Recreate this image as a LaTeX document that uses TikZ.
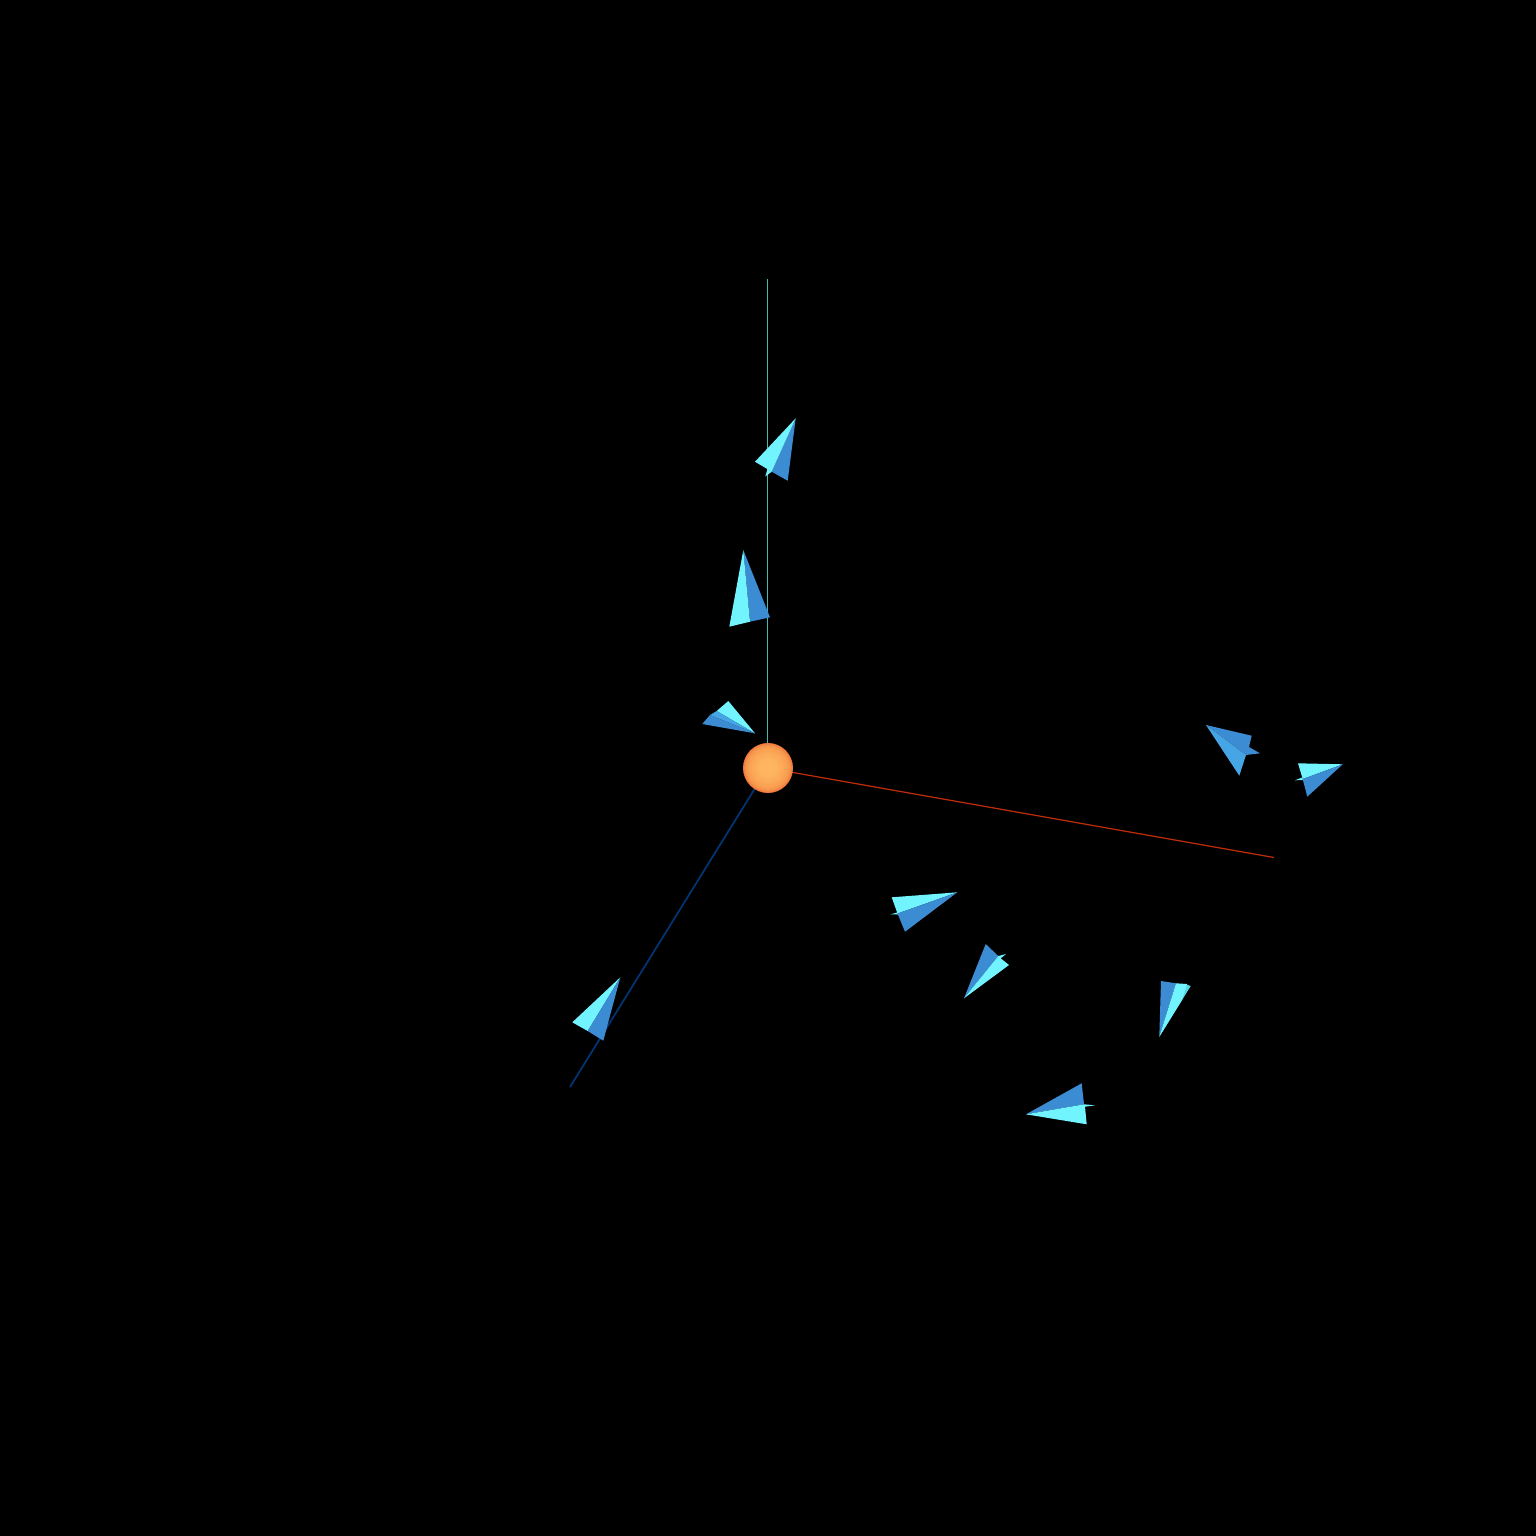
\documentclass[tikz,border=0pt]{standalone}
\definecolor{lightface}{RGB}{114,244,255}
\definecolor{darkface}{RGB}{60,140,212}
\definecolor{midface}{RGB}{70,165,228}
\definecolor{edgeface}{RGB}{85,215,232}
\definecolor{tealaxis}{RGB}{70,185,175}
\definecolor{redaxis}{RGB}{190,45,10}
\definecolor{blueaxis}{RGB}{0,52,115}
\definecolor{sunin}{RGB}{255,182,95}
\definecolor{sunout}{RGB}{238,118,58}
\tikzset{
  lf/.style={fill=lightface,draw=none},
  df/.style={fill=darkface,draw=none},
  mf/.style={fill=midface,draw=none},
  ef/.style={fill=edgeface,draw=none},
  axisline/.style={line width=0.7pt},
  sun/.style={circle,minimum size=1cm,inner sep=0pt,fill=sunout}
}
\begin{document}
\begin{tikzpicture}[x=0.02cm,y=-0.02cm]
\fill[black] (0,0) rectangle (1536,1536);
\useasboundingbox (0,0) rectangle (1536,1536);
\coordinate (yend) at (767.6,279);
\coordinate (ybase) at (767.6,768);
\coordinate (xend) at (1274,857.5);
\coordinate (zend) at (570,1087);
\draw[axisline,tealaxis,line width=0.95pt] (ybase) -- (yend);
\draw[axisline,redaxis] (ybase) -- (xend);
\draw[axisline,blueaxis,line width=1pt] (ybase) -- (zend);
\node[sun] (star) at (768,768) {};
\foreach \r/\p in {24.5/12,24/24,23/38,22/50,21/58,20/65,18/73,16/80,14/86,12/91,10/95,8/98,6/100}{
  \fill[sunin!\p!sunout] (star.center) circle [radius=\r*0.02cm];
}
% cone top
\fill[df] (795.7,418.3) -- (771.7,471.7) -- (787.7,480.7) -- cycle;
\fill[lf] (795.7,418.3) -- (755,461.7) -- (771.7,471.7) -- cycle;
\fill[lf] (767.5,469) -- (771.7,471.7) -- (765.3,476.5) -- cycle;
% cone 2
\fill[df] (743.3,550) -- (750,621.7) -- (770,617.3) -- cycle;
\fill[lf] (743.3,550) -- (729.3,626.7) -- (750,621.7) -- cycle;
% cone 3
\fill[lf] (755,733.3) -- (728.3,701) -- (716.7,711) -- cycle;
\fill[mf] (755,733.3) -- (716.7,711) -- (710,715) -- cycle;
\fill[df] (755,733.3) -- (710,715) -- (702.3,724) -- cycle;
% cone 4
\fill[df] (1206,725) -- (1251.7,735.7) -- (1249,747) -- (1260,753.3) -- (1246,755) -- cycle;
\fill[mf] (1206,725) -- (1246,755) -- (1239.3,775.7) -- cycle;
% cone 5
\fill[lf] (1342.7,764.3) -- (1298,763.3) -- (1302.7,779) -- cycle;
\fill[lf] (1295,780.3) -- (1302,777.5) -- (1303,780) -- cycle;
\fill[df] (1342.7,764.3) -- (1302.7,779) -- (1307.3,796.7) -- cycle;
% cone 6
\fill[lf] (957.3,892.3) -- (891.7,897.3) -- (897.5,913.5) -- cycle;
\fill[lf] (890.7,914.3) -- (897,912.5) -- (898,914.5) -- cycle;
\fill[df] (957.3,892.3) -- (897.5,913.5) -- (905,931.7) -- cycle;
% cone 7
\fill[df] (964,998.3) -- (985.7,944) -- (998.3,956) -- cycle;
\fill[lf] (964,998.3) -- (998.3,956) -- (1006,954) -- (1000.7,958.3) -- (1009,965) -- cycle;
% cone 8
\fill[df] (1159.3,1036.7) -- (1161,981) -- (1176,983.3) -- cycle;
\fill[ef] (1159.3,1036.7) -- (1185,984) -- (1190.7,986) -- cycle;
\fill[lf] (1159.3,1036.7) -- (1176,983.3) -- (1187,984) -- (1182,1000) -- cycle;
% cone 9
\fill[df] (1026,1114.3) -- (1081.7,1083.3) -- (1084,1104.3) -- cycle;
\fill[lf] (1026,1114.3) -- (1084,1104.3) -- (1095,1105.3) -- (1085,1106.7) -- (1086.7,1124.3) -- cycle;
% cone 10
\fill[lf] (620.3,977.3) -- (572.3,1022.3) -- (587.7,1031) -- cycle;
\fill[df] (620.3,977.3) -- (587.7,1031) -- (603.3,1040.7) -- cycle;
\end{tikzpicture}
\end{document}
